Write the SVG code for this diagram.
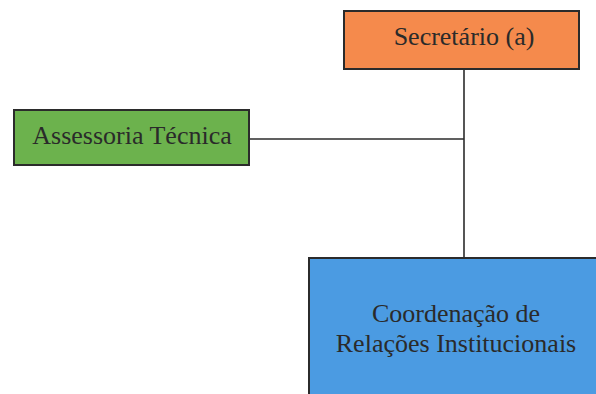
<svg xmlns="http://www.w3.org/2000/svg" width="596" height="394" viewBox="0 0 596 394">
  <style>
    .box { stroke: #2b2b2b; stroke-width: 2; }
    .label { font-family: "Liberation Serif", "Times New Roman", serif; font-size: 26px; fill: #2a2a2a; text-anchor: middle; }
    .link { stroke: #2b2b2b; stroke-width: 1.6; fill: none; }
  </style>
  <rect width="596" height="394" fill="#ffffff"/>

  <g id="connectors">
    <line class="link" x1="464" y1="69" x2="464" y2="258"/>
    <line class="link" x1="249" y1="139" x2="464" y2="139"/>
  </g>

  <g id="secretario">
    <rect class="box" x="344" y="11" width="235" height="58" fill="#f58a4c"/>
    <text class="label" x="464" y="45">Secretário (a)</text>
  </g>

  <g id="assessoria">
    <rect class="box" x="14" y="110" width="235" height="55" fill="#6cb24d"/>
    <text class="label" x="132" y="144">Assessoria Técnica</text>
  </g>

  <g id="coordenacao">
    <rect class="box" x="309" y="258" width="300" height="150" fill="#4b9be2"/>
    <text class="label" x="456" y="322">Coordenação de</text>
    <text class="label" x="456" y="352">Relações Institucionais</text>
  </g>
</svg>
